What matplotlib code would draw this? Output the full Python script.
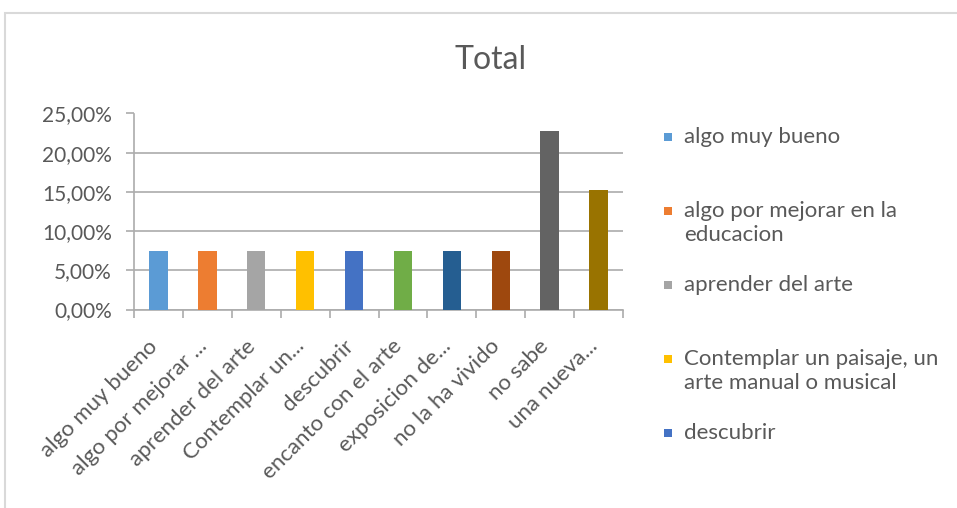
"""
Total: bar chart of responses (share of total), Excel-style look.
"""

import matplotlib.pyplot as plt
import matplotlib.patches as mpatches
import matplotlib.transforms as mtransforms
from matplotlib.ticker import FuncFormatter, MultipleLocator

# Data
categories = ["algo muy bueno", "algo por mejorar ...", "aprender del arte",
              "Contemplar un...", "descubrir", "encanto con el arte",
              "exposicion de...", "no la ha vivido", "no sabe", "una nueva..."]
values = [0.075, 0.075, 0.075, 0.075, 0.075, 0.075, 0.075, 0.075, 0.228, 0.152]
legend_labels = ["algo muy bueno", "algo por mejorar en la\neducacion",
                 "aprender del arte",
                 "Contemplar un paisaje, un\narte manual o musical",
                 "descubrir"]
colors = ["#5B9BD5", "#ED7D31", "#A5A5A5", "#FFC000", "#4472C4",
          "#70AD47", "#255E91", "#9E480E", "#636363", "#997300"]

TEXT = "#595959"
GRID = "#acacac"
W, H = 957, 508

plt.rcParams["font.family"] = ["Lato", "DejaVu Sans"]

fig = plt.figure(figsize=(W / 100, H / 100), dpi=100)

# chart border
fig.patches.append(mpatches.Rectangle((5 / W, -0.2), 1.2, 1 - 13 / H + 0.2,
                                      transform=fig.transFigure, fill=False,
                                      edgecolor="#d9d9d9", lw=1.5))

ax = fig.add_axes([134 / W, 1 - 309.5 / H, (623 - 134) / W, (309.5 - 113.5) / H])
x = range(len(categories))
ax.bar(x, values, width=0.375, color=colors, zorder=3)

ax.set_xlim(-0.5, len(categories) - 0.5)
ax.set_ylim(0, 0.25)
ax.yaxis.set_major_locator(MultipleLocator(0.05))
ax.yaxis.set_major_formatter(FuncFormatter(lambda v, p: f"{v * 100:.2f}%".replace(".", ",")))
ax.grid(axis="y", color=GRID, lw=1.2, zorder=0)

for s in ["top", "right"]:
    ax.spines[s].set_visible(False)
for s in ["left", "bottom"]:
    ax.spines[s].set_color(GRID)
    ax.spines[s].set_linewidth(1.2)

ax.set_xticks(list(x))
ax.set_xticklabels(categories, rotation=45, ha="right", va="top",
                   rotation_mode="anchor", fontsize=16, color=TEXT)
ax.set_xticks([i - 0.5 for i in range(len(categories) + 1)], minor=True)
ax.tick_params(axis="x", which="major", length=0, pad=22)
ax.tick_params(axis="x", which="minor", length=6, color=GRID, width=1.2)
ax.tick_params(axis="y", length=6, color=GRID, width=1.2, pad=10,
               labelsize=15, labelcolor=TEXT)

# nudge the rotated labels left a bit, like Excel places them
shift = mtransforms.ScaledTranslation(-0.11, 0.04, fig.dpi_scale_trans)
for lbl in ax.get_xticklabels():
    lbl.set_transform(lbl.get_transform() + shift)

fig.text(491 / W, 1 - 60 / H, "Total", ha="center", va="center",
         fontsize=23, color=TEXT)

# legend (only first entries visible, as in the original)
for i, lab in enumerate(legend_labels):
    yc = 137 + 74 * i
    fig.patches.append(mpatches.Rectangle((664 / W, 1 - (yc + 4) / H), 8 / W, 8 / H,
                                          transform=fig.transFigure,
                                          facecolor=colors[i], edgecolor="none"))
    fig.text(684 / W, 1 - (yc - 10) / H, lab, ha="left", va="top",
             fontsize=16, color=TEXT, linespacing=1.25)

fig.savefig("out.png", dpi=100)
